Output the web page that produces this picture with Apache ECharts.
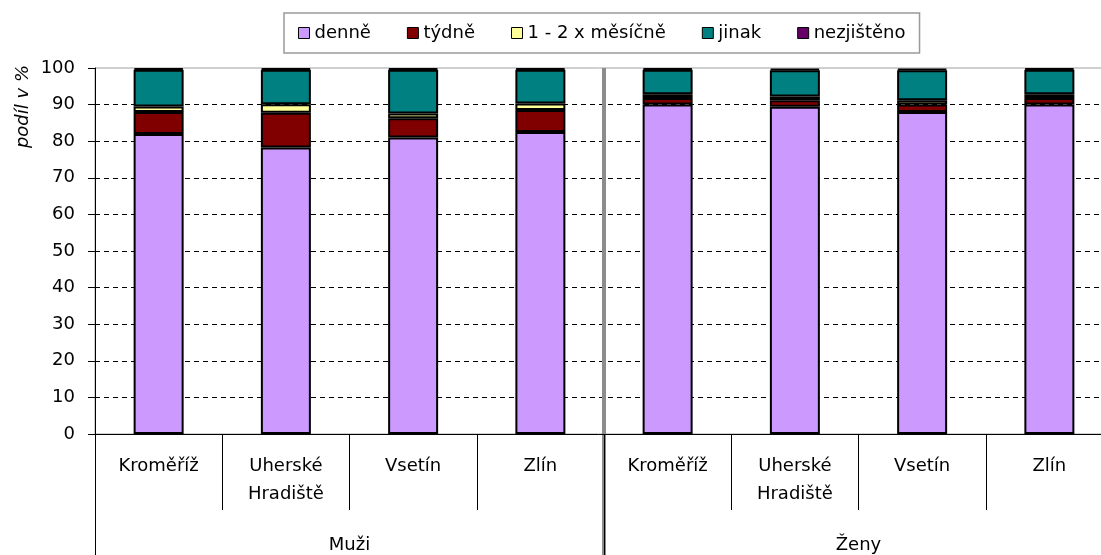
<!DOCTYPE html>
<html>
<head>
<meta charset="utf-8">
<script src="https://cdn.jsdelivr.net/npm/echarts@6/dist/echarts.min.js"></script>
<style>
html,body{margin:0;padding:0;background:#fff;}
#chart{width:1101px;height:555px;}
</style>
</head>
<body>
<div id="chart"></div>
<script>
// kategorie
let cities=["Kroměříž","Uherské\nHradiště","Vsetín","Zlín","Kroměříž","Uherské\nHradiště","Vsetín","Zlín"]
let groups=["Muži","Ženy"]
// hodnoty v %
let denne=[82,78.3,81,82.5,90,89.4,88,90]
let tydne=[6,9.5,5.3,6,1.8,1.8,2,1.8]
let mesicne=[1.5,2.3,1.3,1.8,1,1,1.2,1]
let jinak=[10,9.4,11.9,9.2,6.7,7.2,8.2,6.7]
let nezjisteno=[0.4,0.4,0.4,0.4,0.4,0.4,0.4,0.4]
let series_names=["denně","týdně","1 - 2 x měsíčně","jinak","nezjištěno"]
let series_colors=["#CC99FF","#800000","#FFFF99","#008080","#660066"]
let series_data=[denne,tydne,mesicne,jinak,nezjisteno]

let font="'DejaVu Sans', Verdana, sans-serif"
let chart=echarts.init(document.getElementById("chart"))

let series=[]
for(let i=0;i<5;i++){
    series.push({
        name:series_names[i],
        type:'bar',
        stack:'a',
        barWidth:50,
        xAxisIndex:0,
        yAxisIndex:0,
        data:series_data[i],
        itemStyle:{color:series_colors[i],borderColor:'#000',borderWidth:2},
        emphasis:{disabled:true}
    })
}

chart.setOption({
    animation:false,
    textStyle:{fontFamily:font},
    legend:{
        left:284,
        top:13,
        padding:[11,14],
        itemGap:36,
        itemWidth:11,
        itemHeight:11,
        icon:'rect',
        borderColor:'#999',
        borderWidth:1.5,
        itemStyle:{borderColor:'#000',borderWidth:1},
        textStyle:{fontSize:18,color:'#000',fontFamily:font},
        data:series_names
    },
    grid:[{
        left:95,
        top:68,
        width:1018,
        height:366,
        outerBoundsMode:'none',
        show:true,
        borderColor:'#a0a0a0',
        borderWidth:1
    },{
        // oddělovač skupin Muži / Ženy
        left:95,
        top:68,
        width:1018,
        height:487,
        outerBoundsMode:'none'
    }],
    graphic:[{
        type:'text',
        left:14,
        top:65,
        rotation:Math.PI/2,
        style:{text:'podíl v %',font:'italic 18px '+font,fill:'#000'}
    }],
    yAxis:[{
        type:'value',
        gridIndex:0,
        min:0,
        max:100,
        interval:10,
        axisLine:{show:true,lineStyle:{color:'#000',width:1}},
        axisTick:{show:true,length:7,lineStyle:{color:'#000'}},
        axisLabel:{color:'#000',fontSize:18,margin:20,fontFamily:font},
        splitLine:{show:true,lineStyle:{color:['transparent','#000','#000','#000','#000','#000','#000','#000','#000','#000','transparent'],type:[5,4],width:1}}
    },{
        type:'value',
        gridIndex:1,
        min:0,
        max:1,
        show:false
    }],
    xAxis:[{
        type:'category',
        gridIndex:0,
        data:cities,
        position:'bottom',
        axisLine:{show:true,lineStyle:{color:'#000',width:1}},
        axisTick:{show:true,length:76,interval:0,lineStyle:{color:'#000',width:1}},
        axisLabel:{color:'#000',fontSize:18,interval:0,margin:18,lineHeight:28,fontFamily:font,verticalAlign:'top'},
        splitLine:{show:false}
    },{
        type:'category',
        gridIndex:0,
        data:groups,
        position:'bottom',
        axisLine:{show:false},
        axisTick:{show:true,length:121,interval:0,lineStyle:{color:'#000',width:1}},
        axisLabel:{color:'#000',fontSize:18,margin:102,fontFamily:font,verticalAlign:'top'},
        splitLine:{show:false}
    },{
        type:'value',
        gridIndex:1,
        min:0,
        max:8,
        interval:4,
        axisLine:{show:false},
        axisTick:{show:false},
        axisLabel:{show:false},
        splitLine:{show:true,lineStyle:{color:['transparent','#8c8c8c','transparent'],width:4}}
    }],
    series:series
})
</script>
</body>
</html>
